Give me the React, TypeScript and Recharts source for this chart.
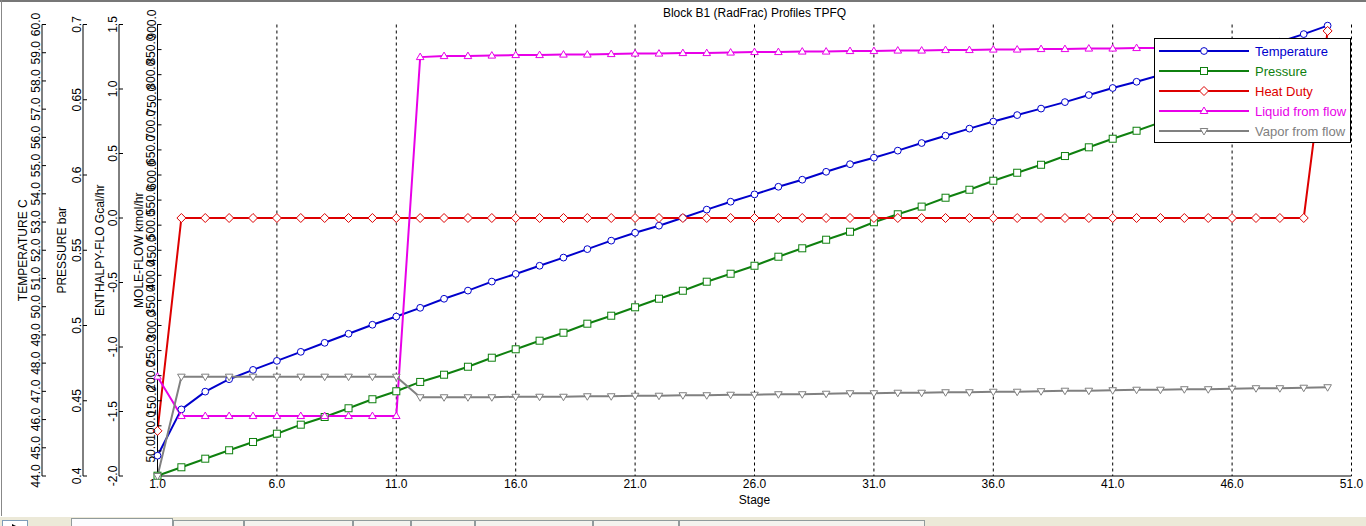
import React from 'react';
import { ComposedChart, Line, XAxis, YAxis, CartesianGrid, Legend } from 'recharts';

const FONT = '"Liberation Sans", Arial, sans-serif';

// stage profile
const stages = [
  1, 2, 3, 4, 5, 6, 7, 8, 9, 10, 11, 12, 13, 14, 15, 16, 17, 18, 19, 20, 21, 22, 23, 24, 25,
  26, 27, 28, 29, 30, 31, 32, 33, 34, 35, 36, 37, 38, 39, 40, 41, 42, 43, 44, 45, 46, 47, 48, 49, 50,
];
const temperature = [
  44.72, 46.36, 46.99, 47.43, 47.76, 48.08, 48.4, 48.72, 49.04, 49.36,
  49.65, 49.96, 50.28, 50.57, 50.89, 51.16, 51.45, 51.74, 52.04, 52.34,
  52.62, 52.87, 53.15, 53.44, 53.72, 53.98, 54.25, 54.5, 54.78, 55.05,
  55.28, 55.53, 55.8, 56.06, 56.31, 56.56, 56.79, 57.02, 57.25, 57.5,
  57.75, 57.97, 58.21, 58.45, 58.68, 58.92, 59.16, 59.39, 59.66, 59.96,
];
const pressure = [
  0.4002, 0.4058, 0.4115, 0.4171, 0.4226, 0.4281, 0.4341, 0.4392, 0.445, 0.451,
  0.4563, 0.4625, 0.4673, 0.4726, 0.4786, 0.4842, 0.4899, 0.4952, 0.5012, 0.5065,
  0.5121, 0.5178, 0.5231, 0.5291, 0.5344, 0.5397, 0.5457, 0.5513, 0.557, 0.5623,
  0.5686, 0.5739, 0.579, 0.5849, 0.5902, 0.5962, 0.6015, 0.6068, 0.6126, 0.6184,
  0.6241, 0.6294, 0.635, 0.6405, 0.6461, 0.6516, 0.6571, 0.6627, 0.6682, 0.6737,
];
const heatDuty = [
  -1.65, 0, 0, 0, 0, 0, 0, 0, 0, 0,
  0, 0, 0, 0, 0, 0, 0, 0, 0, 0,
  0, 0, 0, 0, 0, 0, 0, 0, 0, 0,
  0, 0, 0, 0, 0, 0, 0, 0, 0, 0,
  0, 0, 0, 0, 0, 0, 0, 0, 0, 1.45,
];
const liquidFlow = [
  198, 119.5, 119.5, 119.5, 119.5, 119.5, 119.5, 119.5, 119.5, 119.5,
  119.5, 835, 837, 837, 838, 839, 839, 840, 840, 841,
  842, 842, 843, 843, 844, 845, 845, 846, 846, 847,
  847, 848, 848, 849, 849, 850, 850, 851, 851, 852,
  852, 853, 853, 854, 854, 855, 855, 856, 856, 680,
];
const vaporFlow = [
  0, 198, 198, 198, 198, 198, 198, 198, 198, 198,
  198, 157, 157, 157, 157, 158, 158, 158, 159, 159,
  160, 160, 161, 161, 162, 162, 163, 163, 164, 165,
  165, 166, 166, 167, 167, 168, 168, 169, 170, 170,
  171, 172, 172, 173, 173, 174, 175, 175, 176, 177,
];

const stageTicks = [1, 6, 11, 16, 21, 26, 31, 36, 41, 46, 51];
const temperatureTicks = [44, 45, 46, 47, 48, 49, 50, 51, 52, 53, 54, 55, 56, 57, 58, 59, 60];
const pressureTicks = [0.4, 0.45, 0.5, 0.55, 0.6, 0.65, 0.7];
const enthalpyTicks = [-2, -1.5, -1, -0.5, 0, 0.5, 1, 1.5];
const moleFlowTicks = [
  50, 100, 150, 200, 250, 300, 350, 400, 450, 500, 550, 600, 650, 700, 750, 800, 850, 900,
];

const data = stages.map((stage, i) => ({
  stage,
  temperature: temperature[i],
  pressure: pressure[i],
  heatDuty: heatDuty[i],
  liquidFlow: liquidFlow[i],
  vaporFlow: vaporFlow[i],
}));

type Shape = 'circle' | 'square' | 'diamond' | 'up' | 'down';

// recharts stacks left axes by id, so ids are prefixed to keep mole-flow innermost
const series: { key: string; name: string; color: string; shape: Shape; axis: string }[] = [
  { key: 'temperature', name: 'Temperature', color: '#0000CC', shape: 'circle', axis: 'd_temp' },
  { key: 'pressure', name: 'Pressure', color: '#0F800F', shape: 'square', axis: 'c_pres' },
  { key: 'heatDuty', name: 'Heat Duty', color: '#DD0000', shape: 'diamond', axis: 'b_enth' },
  { key: 'liquidFlow', name: 'Liquid from flow', color: '#E800E8', shape: 'up', axis: 'a_mole' },
  { key: 'vaporFlow', name: 'Vapor from flow', color: '#808080', shape: 'down', axis: 'a_mole' },
];

function Marker({ cx, cy, shape, color }: { cx: number; cy: number; shape: Shape; color: string }) {
  const p = { fill: '#fff', stroke: color, strokeWidth: 1 };
  if (shape === 'circle') return <circle cx={cx} cy={cy} r={3.4} {...p} />;
  if (shape === 'square') return <rect x={cx - 3.5} y={cy - 3.5} width={7} height={7} {...p} />;
  if (shape === 'diamond')
    return <polygon points={`${cx},${cy - 4.5} ${cx + 4.5},${cy} ${cx},${cy + 4.5} ${cx - 4.5},${cy}`} {...p} />;
  if (shape === 'up')
    return <polygon points={`${cx},${cy - 4} ${cx + 3.8},${cy + 2.5} ${cx - 3.8},${cy + 2.5}`} {...p} />;
  return <polygon points={`${cx - 3.8},${cy - 2.5} ${cx + 3.8},${cy - 2.5} ${cx},${cy + 4}`} {...p} />;
}

// rotated tick labels like the Aspen plot, tick mark pointing into the plot
const rotatedTick = (fmt: (v: number) => string) => (props: any) => {
  const { x, y, payload } = props;
  const bx = x - 2;
  return (
    <g>
      <line x1={x} y1={y} x2={x + 4} y2={y} stroke="#000" />
      <text
        x={bx}
        y={y}
        transform={`rotate(-90 ${bx} ${y})`}
        textAnchor="middle"
        fontSize={12}
        fontFamily={FONT}
        fill="#000"
      >
        {fmt(payload.value)}
      </text>
    </g>
  );
};

const axisTitle = (text: string, gap: number) => (props: any) => {
  const vb = props.viewBox;
  if (!vb) return null;
  const bx = vb.x + vb.width - gap;
  const cy = vb.y + vb.height / 2;
  return (
    <text
      x={bx}
      y={cy}
      transform={`rotate(-90 ${bx} ${cy})`}
      textAnchor="middle"
      fontSize={12}
      fontFamily={FONT}
      fill="#000"
    >
      {text}
    </text>
  );
};

function LegendBox() {
  return (
    <div
      style={{
        boxSizing: 'border-box',
        width: 197,
        height: 105,
        border: '1px solid #000',
        background: '#fff',
        paddingTop: 2,
        fontFamily: FONT,
        fontSize: 13,
      }}
    >
      {series.map((s) => (
        <div key={s.key} style={{ display: 'flex', alignItems: 'center', height: 20 }}>
          <svg width={100} height={20} style={{ flex: 'none' }}>
            <line x1={4} y1={10} x2={94} y2={10} stroke={s.color} strokeWidth={2} />
            <Marker cx={49} cy={10} shape={s.shape} color={s.color} />
          </svg>
          <span style={{ color: s.color, whiteSpace: 'nowrap' }}>{s.name}</span>
        </div>
      ))}
    </div>
  );
}

const tabEdges = [71, 173, 244, 353, 411, 475, 593, 679, 925];

export default function App() {
  return (
    <div
      style={{
        position: 'absolute',
        left: 0,
        top: 0,
        width: 1366,
        height: 526,
        background: '#fff',
        overflow: 'hidden',
      }}
    >
      <div style={{ position: 'absolute', left: 0, top: 0, width: 1366, height: 2, background: '#777' }} />
      <div style={{ position: 'absolute', left: 1, top: 0, width: 1, height: 516, background: '#888' }} />
      <div
        style={{
          position: 'absolute',
          left: 157.5,
          width: 1194,
          top: 6,
          textAlign: 'center',
          fontFamily: FONT,
          fontSize: 12,
          lineHeight: '14px',
          color: '#000',
        }}
      >
        Block B1 (RadFrac) Profiles TPFQ
      </div>
      <ComposedChart
        width={1366}
        height={516}
        data={data}
        margin={{ top: 24.5, right: 14.5, bottom: 0, left: 2 }}
      >
        <CartesianGrid
          yAxisId="a_mole"
          horizontal={false}
          stroke="#000"
          strokeDasharray="3 3"
        />
        <XAxis
          dataKey="stage"
          type="number"
          domain={[1, 51]}
          ticks={stageTicks}
          interval={0}
          height={40}
          tickSize={0}
          tickMargin={3}
          tickLine={false}
          axisLine={{ stroke: '#000' }}
          tickFormatter={(v: number) => v.toFixed(1)}
          tick={{ fill: '#000', fontSize: 12, fontFamily: FONT }}
          label={{ value: 'Stage', position: 'insideBottom', offset: 12, fill: '#000', fontSize: 12, fontFamily: FONT }}
        />
        <YAxis
          yAxisId="a_mole"
          type="number"
          domain={[0, 900]}
          ticks={moleFlowTicks}
          interval={0}
          width={38.5}
          tickSize={0}
          tickMargin={0}
          tickLine={false}
          axisLine={{ stroke: '#000' }}
          tick={rotatedTick((v) => v.toFixed(1))}
          label={axisTitle('MOLE-FLOW kmol/hr', 14.5)}
        />
        <YAxis
          yAxisId="b_enth"
          type="number"
          domain={[-2, 1.5]}
          ticks={enthalpyTicks}
          interval={0}
          width={36}
          tickSize={0}
          tickMargin={0}
          tickLine={false}
          axisLine={{ stroke: '#000' }}
          tick={rotatedTick((v) => v.toFixed(1))}
          label={axisTitle('ENTHALPY-FLO Gcal/hr', 15)}
        />
        <YAxis
          yAxisId="c_pres"
          type="number"
          domain={[0.4, 0.7]}
          ticks={pressureTicks}
          interval={0}
          width={41}
          tickSize={0}
          tickMargin={0}
          tickLine={false}
          axisLine={{ stroke: '#000' }}
          tick={rotatedTick((v) => String(v))}
          label={axisTitle('PRESSURE bar', 17)}
        />
        <YAxis
          yAxisId="d_temp"
          type="number"
          domain={[44, 60]}
          ticks={temperatureTicks}
          interval={0}
          width={40}
          tickSize={0}
          tickMargin={0}
          tickLine={false}
          axisLine={{ stroke: '#000' }}
          tick={rotatedTick((v) => v.toFixed(1))}
          label={axisTitle('TEMPERATURE C', 15)}
        />
        {series.map((s) => (
          <Line
            key={s.key}
            yAxisId={s.axis}
            dataKey={s.key}
            name={s.name}
            type="linear"
            stroke={s.color}
            strokeWidth={2}
            isAnimationActive={false}
            activeDot={false}
            dot={(p: any) => (
              <Marker key={`${s.key}-${p.index}`} cx={p.cx} cy={p.cy} shape={s.shape} color={s.color} />
            )}
          />
        ))}
        <Legend
          layout="vertical"
          align="center"
          verticalAlign="middle"
          content={() => <LegendBox />}
          wrapperStyle={{ left: 1154, top: 38, width: 197, height: 105 }}
        />
      </ComposedChart>
      <div
        style={{
          position: 'absolute',
          left: 0,
          top: 516,
          width: 1366,
          height: 10,
          background: '#ECE9D8',
          borderTop: '1px solid #fff',
        }}
      >
        <svg
          width={26}
          height={10}
          style={{ position: 'absolute', left: 2, top: 3, background: '#fff', border: '1px solid #7F9DB9', boxSizing: 'border-box' }}
        >
          <polygon points="9,3 15,6 9,9" fill="#000" />
        </svg>
        {tabEdges.slice(0, -1).map((l, i) => (
          <div
            key={l}
            style={{
              position: 'absolute',
              left: l,
              top: i === 0 ? 1 : 3,
              width: tabEdges[i + 1] - l,
              height: 12,
              boxSizing: 'border-box',
              border: '1px solid #919B9C',
              background: i === 0 ? '#FCFCFE' : '#F4F3EE',
            }}
          />
        ))}
      </div>
    </div>
  );
}
